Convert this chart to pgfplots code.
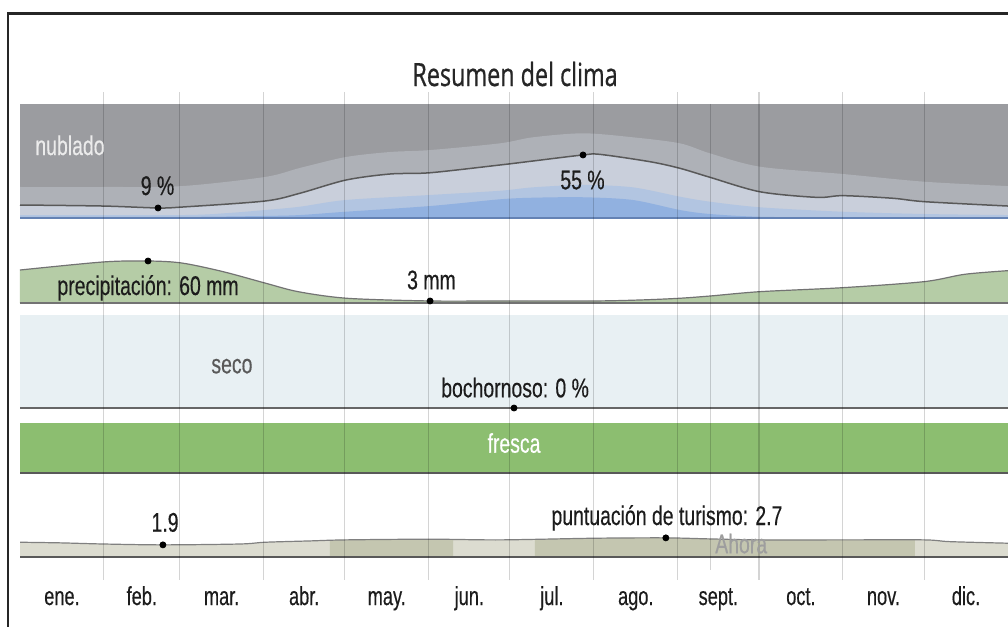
\documentclass[border=0pt]{standalone}
\usepackage{pgfplots}
\pgfplotsset{compat=1.18}
\usepackage{fontspec}
\setmainfont{Liberation Sans}[FakeStretch=0.72, FakeBold=0.35]
\newfontfamily\ttl{Open Sans}[FakeStretch=0.73, FakeBold=0.6]
\newfontfamily\mon{Liberation Sans}[FakeStretch=0.70, FakeBold=0.35]
\definecolor{cOvc}{RGB}{155,156,160}
\definecolor{cMc}{RGB}{174,177,183}
\definecolor{cPc}{RGB}{201,207,219}
\definecolor{cMcl}{RGB}{178,197,225}
\definecolor{cClr}{RGB}{145,177,224}
\definecolor{cBase}{RGB}{100,130,180}
\definecolor{cPrec}{RGB}{181,204,166}
\definecolor{cHum}{RGB}{232,240,243}
\definecolor{cFresh}{RGB}{140,190,112}
\definecolor{cTl}{RGB}{220,220,208}
\definecolor{cTd}{RGB}{196,198,176}
\definecolor{cTxt}{RGB}{28,28,28}
\pgfplotsset{band/.style={scale only axis, width=494pt, xmin=0, xmax=365,
  hide axis, clip=false, anchor=north west}}
\begin{document}
\begin{tikzpicture}
\useasboundingbox (0,0) rectangle (504pt,-313.5pt);
\fill[white] (0,0) rectangle (504pt,-313.5pt);
\draw[line width=1pt, black!85] (4pt,-314pt) -- (4pt,-6pt);
\draw[line width=1.3pt, black!85] (3.5pt,-6.65pt) -- (505pt,-6.65pt);

% ---------- cloud cover ----------
\begin{axis}[band, at={(10pt,-52pt)}, height=57pt, ymin=0, ymax=100]
\addplot[fill=cOvc, draw=none] coordinates {(0,100) (365,100)} \closedcycle;
\addplot[fill=cMc, draw=none, smooth] coordinates {(0,27.2)(30.7,27.2)(59.8,28)(90.5,36)(103.4,43.9)(120.4,53.5)(136.7,57.9)(151.5,59.6)(177.3,65.5)(189.5,70.8)(208,74.3)(226.4,70.8)(243.8,65.5)(254.9,56.7)(273.4,45)(304,38.6)(334.3,31.8)(365,28)} \closedcycle;
\addplot[fill=cPc, draw=none, smooth] coordinates {(0,11.4)(30.7,10.5)(51,8.8)(59.8,9.6)(90.5,14.9)(103.4,21.7)(120.4,33.3)(136.7,38.6)(151.5,39.7)(177.3,46.5)(189.5,50)(208,55.3)(214.3,55.8)(232.7,49.4)(243.8,43.6)(254.9,35.7)(273.4,23)(294.4,18.1)(304,19.6)(322.5,17.3)(334.3,14.3)(365,10.5)} \closedcycle;
\addplot[fill=cMcl, draw=none, smooth] coordinates {(0,2.6)(59.8,2.6)(77,4.4)(90.5,7)(103.4,9.9)(120.4,15.8)(151.5,20.2)(177.3,23.9)(189.5,26.9)(208,29)(226.4,26.9)(243.8,18.7)(254.9,14.3)(273.4,9.4)(304,5.5)(334.3,3.5)(365,2.6)} \closedcycle;
\addplot[fill=cClr, draw=none, smooth] coordinates {(0,1)(59.8,1)(90.5,1.8)(103.4,2.6)(120.4,5.5)(151.5,10.5)(177.3,16.4)(189.5,17.8)(208,18.2)(226.4,15.8)(243.8,7)(254.9,3.5)(273.4,1.1)(304,0.6)(365,0.6)} \closedcycle;
\addplot[color=black!65, line width=0.75pt, smooth] coordinates {(0,11.4)(30.7,10.5)(51,8.8)(59.8,9.6)(90.5,14.9)(103.4,21.7)(120.4,33.3)(136.7,38.6)(151.5,39.7)(177.3,46.5)(189.5,50)(208,55.3)(214.3,55.8)(232.7,49.4)(243.8,43.6)(254.9,35.7)(273.4,23)(294.4,18.1)(304,19.6)(322.5,17.3)(334.3,14.3)(365,10.5)};
\addplot[color=cBase, line width=0.6pt] coordinates {(0,0) (365,0)};
\addplot[only marks, mark=*, mark size=1.5pt, black] coordinates {(51,8.8) (208,55.3)};
\end{axis}

% ---------- precipitation ----------
\begin{axis}[band, at={(10pt,-112.5pt)}, height=39pt, ymin=0, ymax=111.4]
\addplot[fill=cPrec, draw=none, smooth] coordinates {(0,47.1)(30.7,58.6)(47.3,60)(59.8,57.1)(75,44.8)(91,28)(103,16)(121,6.7)(151.5,2.9)(177,2.9)(212,2.9)(229,4.3)(243.4,6.7)(255,10)(273.4,16.2)(304,21.9)(334,30.5)(349,41)(365,46.2)} \closedcycle;
\addplot[color=black!55, line width=0.6pt, smooth] coordinates {(0,47.1)(30.7,58.6)(47.3,60)(59.8,57.1)(75,44.8)(91,28)(103,16)(121,6.7)(151.5,2.9)(177,2.9)(212,2.9)(229,4.3)(243.4,6.7)(255,10)(273.4,16.2)(304,21.9)(334,30.5)(349,41)(365,46.2)};
\addplot[color=black!55, line width=0.8pt] coordinates {(0,0) (365,0)};
\addplot[only marks, mark=*, mark size=1.5pt, black] coordinates {(47.3,60) (151.5,2.9)};
\end{axis}

% ---------- humidity ----------
\begin{axis}[band, at={(10pt,-157.5pt)}, height=46.5pt, ymin=0, ymax=100]
\addplot[fill=cHum, draw=none] coordinates {(0,100) (365,100)} \closedcycle;
\addplot[color=black!60, line width=1pt] coordinates {(0,0) (365,0)};
\addplot[only marks, mark=*, mark size=1.5pt, black] coordinates {(182.5,0)};
\end{axis}

% ---------- comfort ----------
\begin{axis}[band, at={(10pt,-211.5pt)}, height=25pt, ymin=0, ymax=1]
\addplot[fill=cFresh, draw=none] coordinates {(0,1) (365,1)} \closedcycle;
\addplot[color=black!65, line width=1pt] coordinates {(0,0) (365,0)};
\end{axis}

% ---------- tourism ----------
\begin{axis}[band, clip=true, at={(10pt,-240pt)}, height=39pt, ymin=0.4, ymax=9.314]
\addplot[fill=cTl, draw=none, smooth] coordinates {(0,2.2)(14.8,2.13)(30.7,2.0)(52.8,1.9)(81.3,2.0)(90.5,2.2)(107,2.35)(120.4,2.47)(151.5,2.55)(177.3,2.47)(212.4,2.66)(238.6,2.7)(254.9,2.58)(273.4,2.47)(304,2.47)(334,2.47)(343.5,2.27)(365,2.09)} \closedcycle;
\addplot[fill=cTd, draw=none, smooth] coordinates {(114.5,2.42)(120.4,2.47)(151.5,2.55)(160,2.52)} \closedcycle;
\addplot[fill=cTd, draw=none, smooth] coordinates {(190.2,2.54)(212.4,2.66)(238.6,2.7)(254.9,2.58)(273.4,2.47)(304,2.47)(330.6,2.47)} \closedcycle;
\addplot[color=black!50, line width=0.6pt, smooth] coordinates {(0,2.2)(14.8,2.13)(30.7,2.0)(52.8,1.9)(81.3,2.0)(90.5,2.2)(107,2.35)(120.4,2.47)(151.5,2.55)(177.3,2.47)(212.4,2.66)(238.6,2.7)(254.9,2.58)(273.4,2.47)(304,2.47)(334,2.47)(343.5,2.27)(365,2.09)};
\addplot[color=black!65, line width=2pt] coordinates {(0,0.4) (365,0.4)};
\addplot[only marks, mark=*, mark size=1.5pt, black, clip mode=individual] coordinates {(52.8,1.9) (238.6,2.7)};
\end{axis}

% ---------- overlay: grid and texts ----------
\begin{axis}[scale only axis, width=494pt, height=244pt, at={(10pt,-46pt)}, anchor=north west,
  xmin=0, xmax=365, ymin=92, ymax=580, y dir=reverse, clip=false,
  hide axis]
\addplot[black, opacity=0.17, line width=0.55pt, unbounded coords=jump] coordinates {
 (31,92)(31,580) (31,nan) (59,92)(59,580) (59,nan) (90,92)(90,580) (90,nan)
 (120,92)(120,580) (120,nan) (151,92)(151,580) (151,nan) (181,92)(181,580) (181,nan)
 (212,92)(212,580) (212,nan) (243,92)(243,580) (243,nan) (273,92)(273,580) (273,nan)
 (304,92)(304,580) (304,nan) (334,92)(334,580)};
\addplot[black, opacity=0.17, line width=0.55pt] coordinates {(255,104) (255,570)};
\begin{scope}[every node/.style={inner sep=0pt, text=cTxt, font=\fontsize{13.5}{15}\selectfont}]
\node[anchor=base, font=\ttl\fontsize{16}{18}\selectfont, text=black!85] at (axis cs:182.9,86) {Resumen del clima};
\node[anchor=base west, text=white!92!black] at (axis cs:5.54,155) {nublado};
\node[anchor=base] at (axis cs:50.8,195) {9 \%};
\node[anchor=base] at (axis cs:207.8,189.3) {55 \%};
\node[anchor=base] at (axis cs:47.3,295) {precipitación: 60 mm};
\node[anchor=base] at (axis cs:152,289.3) {3 mm};
\node[anchor=base, text=black!65] at (axis cs:78.3,373.3) {seco};
\node[anchor=base] at (axis cs:182.9,397.3) {bochornoso: 0 \%};
\node[anchor=base, text=white] at (axis cs:182.5,452.7) {fresca};
\node[anchor=base] at (axis cs:53.6,531.7) {1.9};
\node[anchor=base] at (axis cs:239,525) {puntuación de turismo: 2.7};
\node[anchor=base west, text=black!38] at (axis cs:256.7,553.3) {Ahora};
\node[anchor=base, font=\mon\fontsize{13}{15}\selectfont] at (axis cs:15.5,605) {ene.};
\node[anchor=base, font=\mon\fontsize{13}{15}\selectfont] at (axis cs:45,605) {feb.};
\node[anchor=base, font=\mon\fontsize{13}{15}\selectfont] at (axis cs:74.5,605) {mar.};
\node[anchor=base, font=\mon\fontsize{13}{15}\selectfont] at (axis cs:105,605) {abr.};
\node[anchor=base, font=\mon\fontsize{13}{15}\selectfont] at (axis cs:135.5,605) {may.};
\node[anchor=base, font=\mon\fontsize{13}{15}\selectfont] at (axis cs:166,605) {jun.};
\node[anchor=base, font=\mon\fontsize{13}{15}\selectfont] at (axis cs:196.5,605) {jul.};
\node[anchor=base, font=\mon\fontsize{13}{15}\selectfont] at (axis cs:227.5,605) {ago.};
\node[anchor=base, font=\mon\fontsize{13}{15}\selectfont] at (axis cs:258,605) {sept.};
\node[anchor=base, font=\mon\fontsize{13}{15}\selectfont] at (axis cs:288.5,605) {oct.};
\node[anchor=base, font=\mon\fontsize{13}{15}\selectfont] at (axis cs:319,605) {nov.};
\node[anchor=base, font=\mon\fontsize{13}{15}\selectfont] at (axis cs:349.5,605) {dic.};
\end{scope}
\end{axis}
\end{tikzpicture}
\end{document}
